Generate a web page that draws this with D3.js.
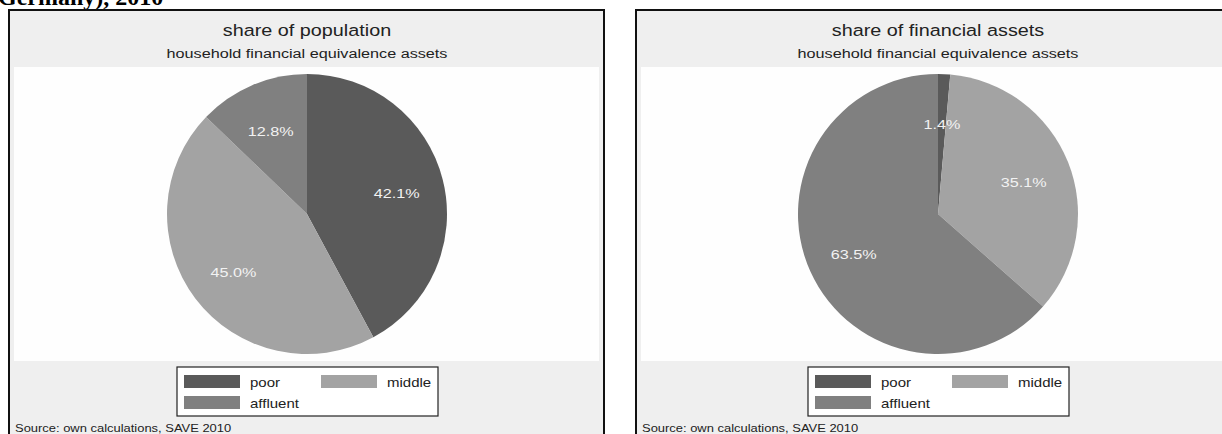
<!DOCTYPE html>
<html><head><meta charset="utf-8">
<script src="https://cdn.jsdelivr.net/npm/d3@7"></script>
<style>body{margin:0;background:#fff;overflow:hidden}svg{display:block}</style>
</head><body>
<svg id="c" width="1222" height="434"></svg>
<script>
const categories = ["poor", "middle", "affluent"];
const populationShares = [42.1, 45.0, 12.8];
const assetShares = [1.4, 35.1, 63.5];
const panelTitles = ["share of population", "share of financial assets"];
const subtitle = "household financial equivalence assets";
const sourceNote = "Source: own calculations, SAVE 2010";
const headerText = "Germany), 2010";

const svg = d3.select("#c");
const color = d3.scaleOrdinal().domain(categories).range(["#5a5a5a", "#a3a3a3", "#808080"]);
const font = "'Liberation Sans', Arial, sans-serif";
const SX = 1.2;

function txt(sel, x, y, s, size, anchor, fill) {
  return sel.append("text").attr("transform", `translate(${x},${y}) scale(${SX},1)`)
    .attr("text-anchor", anchor || "start").attr("font-family", font)
    .attr("font-size", size).attr("fill", fill || "#222").text(s);
}

svg.append("text").attr("x", -2).attr("y", 5).attr("font-family", "'Liberation Serif', 'Times New Roman', serif")
  .attr("font-size", 24).attr("font-weight", "bold").attr("fill", "#000").text(headerText);

const panels = [
  {x: 9, w: 595, cx: 307, values: populationShares, title: panelTitles[0]},
  {x: 636, w: 604, cx: 938, values: assetShares, title: panelTitles[1]}
];

panels.forEach(p => {
  const g = svg.append("g");
  g.append("rect").attr("x", p.x).attr("y", 10).attr("width", p.w).attr("height", 440)
    .attr("fill", "#efefef").attr("stroke", "#111").attr("stroke-width", 2);
  g.append("rect").attr("x", p.x + 5).attr("y", 67).attr("width", p.w - 10).attr("height", 294).attr("fill", "#fefefe");
  txt(g, p.cx, 36, p.title, 16.5, "middle");
  txt(g, p.cx, 58, subtitle, 13.5, "middle");

  const data = categories.map((c, i) => ({cat: c, v: p.values[i]}));
  const pie = d3.pie().sort(null).value(d => d.v);
  const r = 140;
  const arc = d3.arc().innerRadius(0).outerRadius(r);
  const labelArc = d3.arc().innerRadius(r * 0.66).outerRadius(r * 0.66);
  const pg = g.append("g").attr("transform", `translate(${p.cx},214)`);
  const arcs = pie(data);
  pg.selectAll("path").data(arcs).join("path").attr("d", arc).attr("fill", d => color(d.data.cat));
  arcs.forEach(d => {
    const c = labelArc.centroid(d);
    txt(pg, c[0], c[1] + 7, d.data.v.toFixed(1) + "%", 13.5, "middle", "#f2f2f2");
  });

  // legend
  const lx = p.cx - 130, ly = 367;
  const lg = g.append("g").attr("transform", `translate(${lx},${ly})`);
  lg.append("rect").attr("width", 261).attr("height", 49).attr("fill", "#fff").attr("stroke", "#222").attr("stroke-width", 1.2);
  const pos = [[7, 8], [144, 8], [7, 29]];
  categories.forEach((c, i) => {
    lg.append("rect").attr("x", pos[i][0]).attr("y", pos[i][1]).attr("width", 56).attr("height", 13).attr("fill", color(c));
    txt(lg, pos[i][0] + 66, pos[i][1] + 12, c, 12.5);
  });
  txt(g, p.x + 6, 432, sourceNote, 10.8);
});
</script>
</body></html>
